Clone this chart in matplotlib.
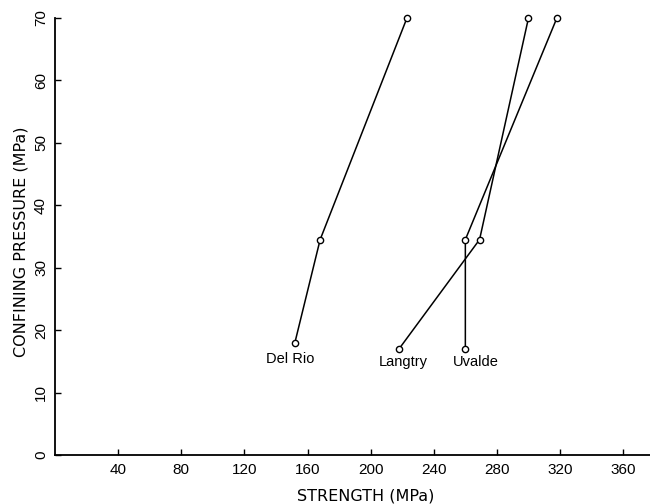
import matplotlib
matplotlib.use("Agg")
import matplotlib.pyplot as plt

# Data (strength in MPa, confining pressure in MPa)
delrio_strength = [152, 168, 223]
delrio_pressure = [18, 34.5, 70]
langtry_strength = [218, 269, 300]
langtry_pressure = [17, 34.5, 70]
uvalde_strength = [260, 260, 318]
uvalde_pressure = [17, 34.5, 70]

series_names = ["Del Rio", "Langtry", "Uvalde"]
x_ticks = [40, 80, 120, 160, 200, 240, 280, 320, 360]
y_ticks = [0, 10, 20, 30, 40, 50, 60, 70]

fig = plt.figure(figsize=(6.5, 5.04), dpi=100)
ax = fig.add_axes([55 / 650, 49 / 504, 1 - 55 / 650, 437 / 504])

series = [(delrio_strength, delrio_pressure),
          (langtry_strength, langtry_pressure),
          (uvalde_strength, uvalde_pressure)]
label_offsets = [(-5, -16), (4, -13), (10, -13)]

for (xs, ys), name, off in zip(series, series_names, label_offsets):
    ax.plot(xs, ys, color="black", lw=1.1, marker="o", markersize=4.5,
            markerfacecolor="white", markeredgecolor="black", mew=1.0,
            clip_on=False, zorder=3)
    ax.annotate(name, xy=(xs[0], ys[0]), xytext=off, textcoords="offset pixels",
                ha="center", va="center", fontsize=10.5,
                family="Liberation Sans")

ax.set_xlim(0, 377)
ax.set_ylim(0, 70)
ax.set_xticks(x_ticks)
ax.set_yticks(y_ticks)
ax.set_xticklabels([str(v) for v in x_ticks], family="Liberation Sans", fontsize=11)
ax.set_yticklabels([str(v) for v in y_ticks], family="Liberation Sans", fontsize=11,
                   rotation=90, va="center")
ax.tick_params(axis="both", direction="in", length=4, width=1.0, color="black")
ax.tick_params(axis="x", pad=6)
ax.tick_params(axis="y", pad=5)

for s in ["top", "right"]:
    ax.spines[s].set_visible(False)
for s in ["left", "bottom"]:
    ax.spines[s].set_linewidth(1.3)

fig.text(366 / 650, 1 - 496 / 504, "STRENGTH (MPa)", ha="center", va="center",
         fontsize=11.5, family="DejaVu Sans")
fig.text(21 / 650, 1 - 242 / 504, "CONFINING PRESSURE (MPa)", ha="center", va="center",
         rotation=90, fontsize=11.5, family="DejaVu Sans")

fig.savefig("out.png", dpi=100)
